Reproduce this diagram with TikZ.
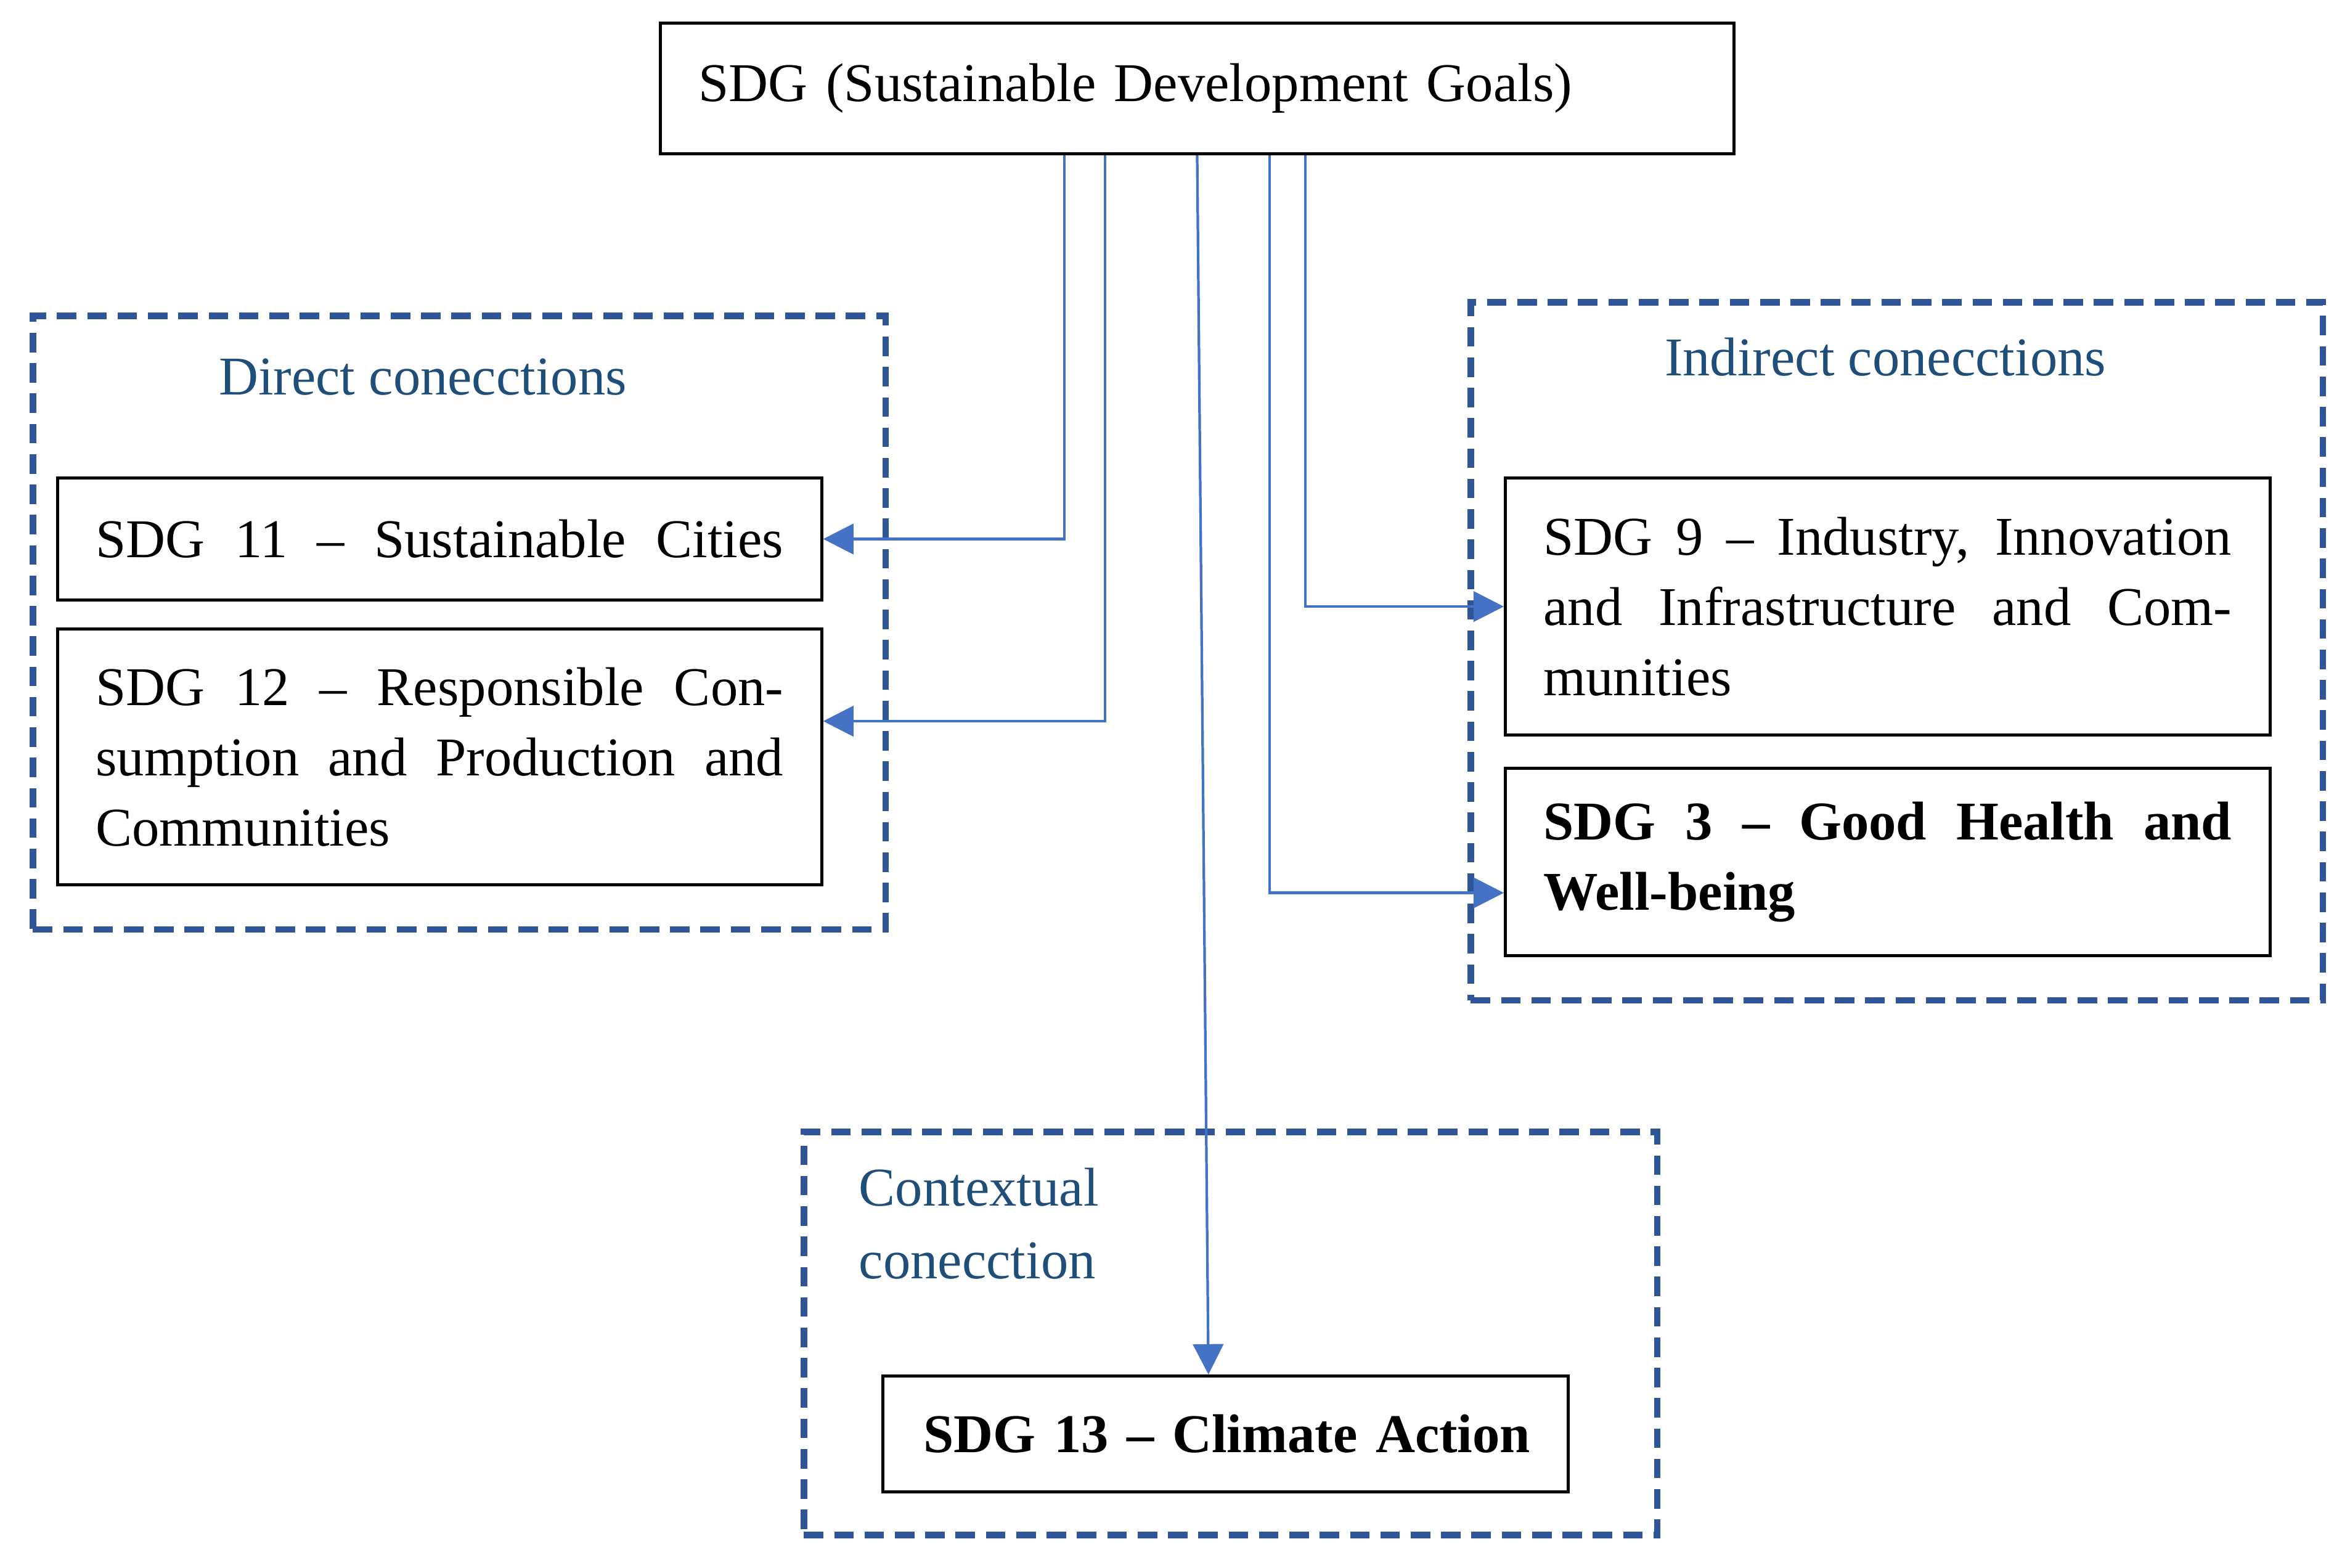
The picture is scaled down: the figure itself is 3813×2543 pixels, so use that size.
\documentclass[tikz,border=0pt]{standalone}
\usepackage{fontspec}
\setmainfont{Liberation Serif}
\usetikzlibrary{arrows.meta}
\definecolor{dashblue}{HTML}{2F5597}
\definecolor{labelblue}{HTML}{1F4E79}
\definecolor{arrowblue}{HTML}{4472C4}
\begin{document}
\begin{tikzpicture}[x=0.01cm,y=-0.01cm,
  every node/.style={font=\fontsize{25.2}{32.4}\selectfont},
  goalbox/.style={draw=black,line width=1.4pt,rectangle,inner xsep=0.62cm,inner ysep=0pt,anchor=north west,align=justify},
  groupbox/.style={draw=dashblue,line width=3pt,dash pattern=on 9pt off 5pt,rectangle,inner sep=0pt,anchor=north west},
  grouplabel/.style={text=labelblue,inner sep=0pt},
  arr/.style={draw=arrowblue,line width=1.2pt,-{Triangle[length=14pt,width=14pt]}}]
\useasboundingbox (0,0) rectangle (3813,2543);

% group frames
\node[groupbox,minimum width=13.83cm,minimum height=9.95cm] (direct) at (48,507) {};
\node[groupbox,minimum width=13.82cm,minimum height=11.32cm] (indirect) at (2381,485) {};
\node[groupbox,minimum width=13.84cm,minimum height=6.54cm] (context) at (1299,1831) {};

% group labels
\node[grouplabel,anchor=base] (dlab) at (686,640) {Direct conecctions};
\node[grouplabel,anchor=base] (ilab) at (3059,610) {Indirect conecctions};
\node[grouplabel,anchor=base west] (clab1) at (1393,1956) {Contextual};
\node[grouplabel,anchor=base west] (clab2) at (1393,2074) {conecction};

% top box
\node[goalbox,align=left,text width=16.17cm,minimum width=17.41cm,minimum height=2.12cm] (top) at (1069,35)
  {SDG (Sustainable Development Goals)};

% goal boxes
\node[goalbox,text width=11.15cm,minimum width=12.39cm,minimum height=1.98cm] (s11) at (91,773)
  {\makebox[\hsize][s]{SDG 11 – Sustainable Cities}};
\node[goalbox,text width=11.15cm,minimum width=12.39cm,minimum height=4.15cm] (s12) at (91,1018)
  {SDG 12 – Responsible Con-\linebreak sumption and Production and\linebreak Communities};
\node[goalbox,text width=11.16cm,minimum width=12.40cm,minimum height=4.17cm] (s9) at (2440,773)
  {SDG 9 – Industry, Innovation\linebreak and Infrastructure and Com-\linebreak munities};
\node[goalbox,text width=11.16cm,minimum width=12.40cm,minimum height=3.04cm] (s3) at (2440,1244)
  {\textbf{SDG 3 – Good Health and\linebreak Well-being}};
\node[goalbox,align=left,inner xsep=0.66cm,text width=9.79cm,minimum width=11.11cm,minimum height=1.88cm] (s13) at (1430,2230)
  {\mbox{\textbf{SDG 13 – Climate Action}}};

% connectors
\draw[arr] ([xshift=-2.155cm]top.south) |- (s11.east);
\draw[arr] ([xshift=-1.495cm]top.south) |- ([yshift=0.58cm]s12.east);
\draw[arr] (top.south) -- ([xshift=-0.275cm]s13.north);
\draw[arr] ([xshift=1.175cm]top.south) |- ([yshift=-0.5cm]s3.west);
\draw[arr] ([xshift=1.755cm]top.south) |- (s9.west);
\end{tikzpicture}
\end{document}
